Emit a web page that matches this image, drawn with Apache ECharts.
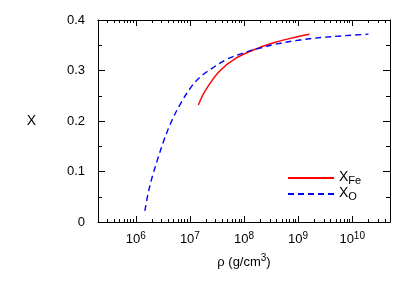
<!DOCTYPE html>
<html>
<head>
<meta charset="utf-8">
<script src="https://cdn.jsdelivr.net/npm/echarts@6/dist/echarts.min.js"></script>
<style>html,body{margin:0;padding:0;background:#fff}#c{width:415px;height:291px}</style>
</head>
<body>
<div id="c"></div>
<script>
// density rho (g/cm^3) and fractions
var rhoO = [1.47e6, 1.69e6, 2.02e6, 2.51e6, 3.24e6, 4.47e6, 6.76e6, 1.10e7, 1.58e7, 2.24e7, 4.57e7, 9.33e7, 1.91e8, 3.80e8, 1.02e9, 3.16e9, 2.0e10];
var xO   = [0.022, 0.057, 0.090, 0.123, 0.159, 0.197, 0.235, 0.270, 0.288, 0.300, 0.321, 0.334, 0.344, 0.352, 0.360, 0.366, 0.372];
var rhoFe = [1.43e7, 1.95e7, 3.44e7, 7.0e7, 1.88e8, 3.8e8, 7.76e8, 1.62e9];
var xFe   = [0.2317, 0.261, 0.2976, 0.324, 0.345, 0.356, 0.3644, 0.3717];
var xMajor = [1e6, 1e7, 1e8, 1e9, 1e10];
var yTicks = [0, 0.1, 0.2, 0.3, 0.4];

var xMin = 2e5, xMax = 5e10;
var minorVals = [];
for (var n = 5; n <= 10; n++) {
  for (var k = 2; k <= 9; k++) {
    var v = k * Math.pow(10, n);
    if (v > xMin && v < xMax) minorVals.push(v);
  }
}
var FONT = 'Liberation Sans, Arial, sans-serif';
function pairs(a, b) { return a.map(function (r, i) { return [r, b[i]]; }); }

function xAxisCfg(pos, vals, len, labels) {
  return {
    type: 'log', logBase: 10, min: xMin, max: xMax, position: pos,
    axisLine: { show: !!labels || pos === 'top', onZero: false, lineStyle: { color: '#000', width: 1 } },
    axisTick: { show: true, inside: true, length: len, customValues: vals, lineStyle: { color: '#000', width: 1 } },
    axisLabel: labels ? {
      show: true, customValues: xMajor, margin: 9,
      formatter: function (v) { return '{b|10}{s|' + Math.round(Math.log10(v)) + '}'; },
      rich: {
        b: { fontFamily: FONT, fontSize: 13, color: '#000', lineHeight: 15, verticalAlign: 'bottom' },
        s: { fontFamily: FONT, fontSize: 10, color: '#000', lineHeight: 10, verticalAlign: 'top', padding: [0, 0, 6, 0] }
      }
    } : { show: false },
    splitLine: { show: false },
    name: labels ? '{a|ρ (g/cm}{s|3}{a|)}' : '',
    nameLocation: 'middle', nameGap: 31,
    nameTextStyle: {
      rich: {
        a: { fontFamily: FONT, fontSize: 13, color: '#000', lineHeight: 16, verticalAlign: 'bottom' },
        s: { fontFamily: FONT, fontSize: 10, color: '#000', lineHeight: 10, verticalAlign: 'top', padding: [0, 0, 6, 0] }
      }
    }
  };
}
function yAxisCfg(pos, labels) {
  return {
    type: 'value', min: yTicks[0], max: yTicks[yTicks.length - 1], interval: 0.1, position: pos,
    axisLine: { show: true, lineStyle: { color: '#000', width: 1 } },
    axisTick: { show: true, inside: true, length: 7, lineStyle: { color: '#000', width: 1 } },
    minorTick: { show: true, splitNumber: 2, length: 4, lineStyle: { color: '#000', width: 1 } },
    axisLabel: labels ? { show: true, margin: 13, color: '#000', fontFamily: FONT, fontSize: 13,
      formatter: function (v) { return String(Math.round(v * 10) / 10); } } : { show: false },
    splitLine: { show: false },
    name: labels ? 'X' : '', nameLocation: 'middle', nameGap: 62, nameRotate: 0,
    nameTextStyle: { fontFamily: FONT, fontSize: 14, color: '#000' }
  };
}

var chart = echarts.init(document.getElementById('c'), null, { renderer: 'canvas' });
chart.setOption({
  animation: false,
  backgroundColor: '#fff',
  grid: { left: 98, right: 25, top: 20, bottom: 69, containLabel: false },
  xAxis: [
    xAxisCfg('bottom', xMajor, 6, true),
    xAxisCfg('bottom', minorVals, 3, false),
    xAxisCfg('top', xMajor, 6, false),
    xAxisCfg('top', minorVals, 3, false)
  ],
  yAxis: [yAxisCfg('left', true), yAxisCfg('right', false)],
  legend: {
    orient: 'vertical', left: 287, top: 167, padding: 0, itemWidth: 46, itemHeight: 14, itemGap: -3,
    selectedMode: false,
    itemStyle: { opacity: 0 },
    textStyle: {
      rich: {
        x: { fontFamily: FONT, fontSize: 14, color: '#000', lineHeight: 16, verticalAlign: 'top' },
        s: { fontFamily: FONT, fontSize: 11, color: '#000', lineHeight: 11, verticalAlign: 'bottom', padding: [8, 0, 0, 0] }
      }
    },
    formatter: function (name) { return name === 'Fe' ? '{x|X}{s|Fe}' : '{x|X}{s|O}'; },
    data: ['Fe', 'O']
  },
  series: [
    { name: 'Fe', type: 'line', xAxisIndex: 0, yAxisIndex: 0, data: pairs(rhoFe, xFe), smooth: 0.35,
      symbol: 'none', lineStyle: { color: '#ff0000', width: 1.4 }, itemStyle: { color: '#ff0000' } },
    { name: 'O', type: 'line', xAxisIndex: 0, yAxisIndex: 0, data: pairs(rhoO, xO), smooth: 0.35,
      symbol: 'none', lineStyle: { color: '#0000ff', width: 1.4, type: [6, 4] }, itemStyle: { color: '#0000ff' } }
  ]
});
</script>
</body>
</html>
